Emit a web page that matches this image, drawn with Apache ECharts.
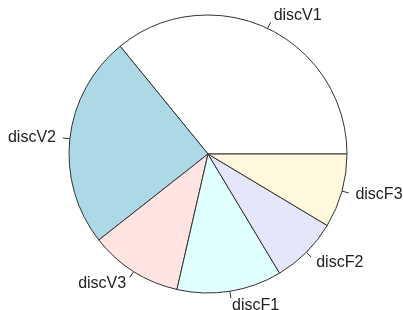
<!DOCTYPE html>
<html><head><meta charset="utf-8">
<script src="https://cdn.jsdelivr.net/npm/echarts@6/dist/echarts.min.js"></script>
<style>html,body{margin:0;padding:0;background:#fff}#c{width:403px;height:310px}</style>
</head><body><div id="c"></div>
<script>
const categories = ['discV1','discV2','discV3','discF1','discF2','discF3'];
const values = [35.9, 24.75, 10.8, 12.2, 7.8, 8.6];
const colors = ['#FFFFFF','#ADD8E6','#FFE4E1','#E0FFFF','#E6E6FA','#FFF8DC'];

const R = 139;
const total = values.reduce((a,b)=>a+b,0);
let cum = 0;
const data = categories.map((c,i)=>{
  const mid = (cum + values[i]/2) / total * 2 * Math.PI; cum += values[i];
  const sx = 0.05 * R * Math.abs(Math.cos(mid));
  return {name:c, value:values[i], itemStyle:{color:colors[i]},
          label:{distanceToLabelLine:sx}};
});

const chart = echarts.init(document.getElementById('c'), null, {renderer:'canvas'});
chart.setOption({
  backgroundColor:'#fff',
  series:[{
    type:'pie', center:[208,154], radius:[0,R], startAngle:0, clockwise:false,
    avoidLabelOverlap:false, animation:false, silent:true,
    data: data,
    itemStyle:{borderColor:'#333', borderWidth:1},
    label:{show:true, position:'outside', color:'#222', formatter:'{b}', fontSize:16,
           fontFamily:'Liberation Sans, Arial, sans-serif', distanceToLabelLine:5},
    labelLine:{show:true, length:7, length2:0, lineStyle:{color:'#333', width:1}},
    labelLayout: function(p){
      const pts = p.labelLinePoints;
      if (!pts) return {};
      const dy = pts[1][1] - pts[0][1];
      return {dy: dy, labelLinePoints: pts};
    },
    emphasis:{disabled:true}
  }]
});
</script></body></html>
